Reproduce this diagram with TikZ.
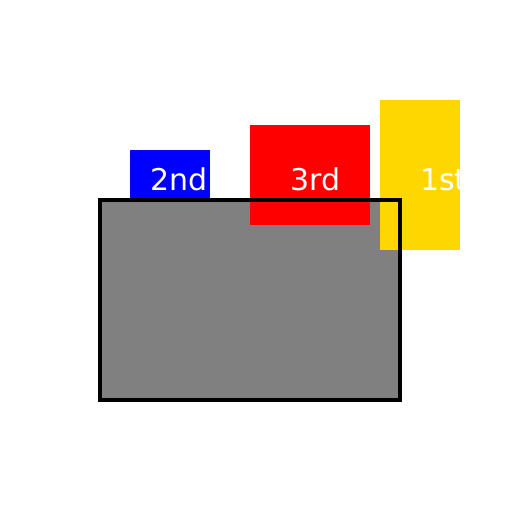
\documentclass[tikz,border=0pt]{standalone}
\usepackage{fontspec}
\setmainfont{DejaVu Sans}
\usepackage{tikz}
\definecolor{gold}{RGB}{255,215,0}

\begin{document}
\begin{tikzpicture}[
    x=1pt, y=-1pt,
    label/.style={anchor=base west, inner sep=0pt, text=white, font=\fontsize{30}{36}\selectfont}
]
    \useasboundingbox (0,0) rectangle (512,512);

    % 2nd (behind the frame)
    \fill [blue] (130,150) rectangle (210,200);
    \node (second) [label] at (150,190) {2nd};

    % Frame fill
    \fill [gray] (100,200) rectangle (400,400);

    % 3rd
    \fill [red] (250,125) rectangle (370,225);
    \node (third) [label] at (290,190) {3rd};

    % 1st (text clipped to its box)
    \fill [gold] (380,100) rectangle (460,250);
    \begin{scope}
        \clip (380,100) rectangle (460,250);
        \node (first) [label] at (420,190) {1st};
    \end{scope}

    % Frame border on top
    \draw [black, line width=3.5pt] (100,200) rectangle (400,400);
\end{tikzpicture}
\end{document}
